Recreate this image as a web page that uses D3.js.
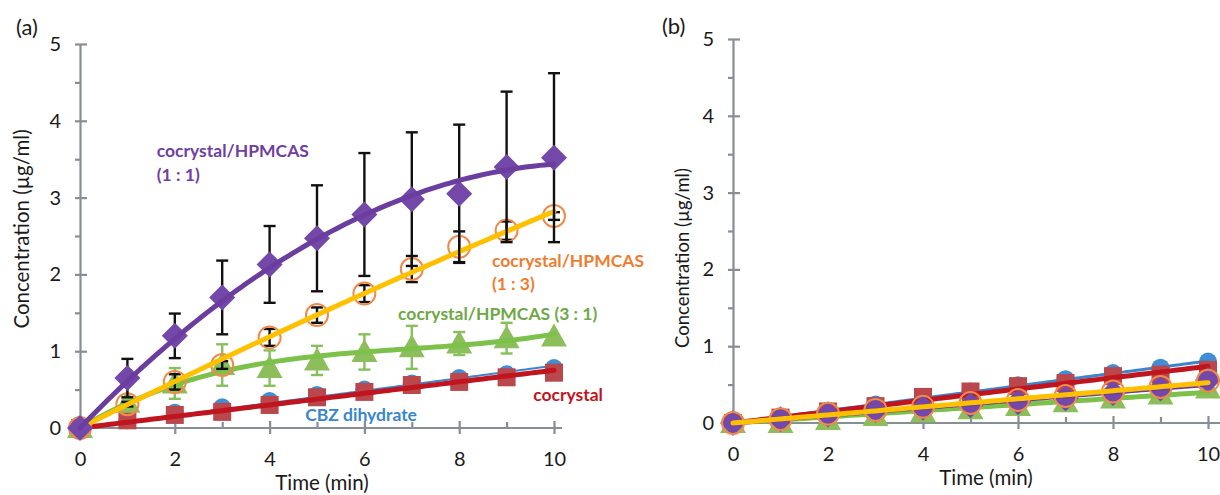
<!DOCTYPE html>
<html>
<head>
<meta charset="utf-8">
<script src="https://cdn.jsdelivr.net/npm/d3@7"></script>
<style>
  body { margin: 0; background: #fff; }
  svg text { font-family: Lato, "Open Sans", sans-serif; }
</style>
</head>
<body>
<div id="chart"></div>
<script>
// time points (min)
var times = [0, 1, 2, 3, 4, 5, 6, 7, 8, 9, 10];
var yTicks = [0, 1, 2, 3, 4, 5];
var yMinor = [0.5, 1.5, 2.5, 3.5, 4.5];
var xTicks = [0, 2, 4, 6, 8, 10];
var xMinor = [1, 3, 5, 7, 9];

// panel (a) values, µg/ml
var cbzA      = [0, 0.10, 0.20, 0.27, 0.35, 0.43, 0.50, 0.58, 0.65, 0.70, 0.78];
var coA       = [0, 0.10, 0.17, 0.21, 0.30, 0.40, 0.47, 0.56, 0.60, 0.66, 0.72];
var hp31A     = [0, 0.33, 0.58, 0.82, 0.78, 0.88, 0.99, 1.05, 1.10, 1.17, 1.19];
var hp31ErrA  = [0, 0.05, 0.20, 0.27, 0.23, 0.19, 0.23, 0.28, 0.15, 0.20, 0.00];
var hp13A     = [0, 0.31, 0.60, 0.82, 1.18, 1.47, 1.75, 2.07, 2.36, 2.57, 2.76];
var hp13ErrA  = [0, 0.03, 0.10, 0.05, 0.11, 0.10, 0.11, 0.17, 0.20, 0.12, 0.05];
var hp11A     = [0, 0.65, 1.20, 1.70, 2.13, 2.47, 2.78, 2.98, 3.05, 3.40, 3.52];
var hp11ErrA  = [0, 0.25, 0.29, 0.48, 0.50, 0.69, 0.80, 0.87, 0.90, 0.98, 1.10];

// panel (b) values, µg/ml
var cbzB  = [0, 0.08, 0.16, 0.24, 0.33, 0.41, 0.49, 0.57, 0.65, 0.72, 0.80];
var coB   = [0, 0.07, 0.15, 0.22, 0.34, 0.41, 0.48, 0.52, 0.61, 0.63, 0.69];
var hp31B = [0, 0.00, 0.04, 0.09, 0.14, 0.18, 0.22, 0.27, 0.32, 0.37, 0.45];
var hp13B = [0, 0.05, 0.12, 0.17, 0.21, 0.26, 0.30, 0.35, 0.41, 0.47, 0.55];
var hp11B = [0, 0.05, 0.11, 0.17, 0.20, 0.23, 0.27, 0.32, 0.39, 0.45, 0.56];

var labelsA = [
  {text: "cocrystal/HPMCAS", t: 1.62, c: 3.53, color: "#7040a0"},
  {text: "(1 : 1)",          t: 1.62, c: 3.22, color: "#7040a0"},
  {text: "cocrystal/HPMCAS", t: 8.69, c: 2.10, color: "#ee7d31"},
  {text: "(1 : 3)",          t: 8.69, c: 1.80, color: "#ee7d31"},
  {text: "cocrystal/HPMCAS (3 : 1)", t: 6.71, c: 1.41, color: "#6fa846"},
  {text: "CBZ dihydrate",    t: 4.75, c: 0.09, color: "#3a86cc"},
  {text: "cocrystal",        t: 9.56, c: 0.35, color: "#c0141e"}
];

var W = 1220, H = 495;
var svg = d3.select("#chart").append("svg")
  .attr("width", W).attr("height", H);

// least squares polynomial through the origin: y = a1 t + a2 t^2 + ...
function fitOrigin(xs, ys, deg) {
  var n = deg, M = [], b = [];
  for (var i = 0; i < n; i++) {
    M.push([]);
    b.push(d3.sum(xs, function(x, k){ return Math.pow(x, i + 1) * ys[k]; }));
    for (var j = 0; j < n; j++) {
      M[i].push(d3.sum(xs, function(x){ return Math.pow(x, i + j + 2); }));
    }
  }
  for (var p = 0; p < n; p++) {
    for (var r = p + 1; r < n; r++) {
      var f = M[r][p] / M[p][p];
      for (var c = p; c < n; c++) M[r][c] -= f * M[p][c];
      b[r] -= f * b[p];
    }
  }
  var a = new Array(n);
  for (var q = n - 1; q >= 0; q--) {
    var s = b[q];
    for (var c2 = q + 1; c2 < n; c2++) s -= M[q][c2] * a[c2];
    a[q] = s / M[q][q];
  }
  return function(t) {
    var y = 0;
    for (var k = 0; k < n; k++) y += a[k] * Math.pow(t, k + 1);
    return y;
  };
}

function drawPanel(opt) {
  var x = d3.scaleLinear().domain([0, 10]).range(opt.xr);
  var y = d3.scaleLinear().domain([0, 5]).range(opt.yr);
  var g = svg.append("g");
  var axisColor = "#878e94";

  // y axis
  var ya = g.append("g").attr("transform", "translate(" + opt.xr[0] + ",0)")
    .call(d3.axisLeft(y).tickValues(yTicks).tickFormat(d3.format("d"))
      .tickSize(5).tickSizeOuter(0).tickPadding(14));
  ya.selectAll(".tick line").attr("x1", 7).attr("x2", -5);
  var yam = g.append("g").attr("transform", "translate(" + opt.xr[0] + ",0)")
    .call(d3.axisLeft(y).tickValues(yMinor).tickSize(5).tickFormat(""));
  yam.select(".domain").remove();

  // x axis
  var xa = g.append("g").attr("transform", "translate(0," + opt.yr[0] + ")")
    .call(d3.axisBottom(x).tickValues(xTicks).tickFormat(d3.format("d"))
      .tickSize(6).tickSizeOuter(0).tickPadding(14));
  xa.selectAll(".tick line").attr("y1", -7).attr("y2", 6);
  xa.select(".domain").remove();
  xa.append("line").attr("x1", x(0)).attr("x2", x(10) + opt.xExt)
    .attr("y1", 0).attr("y2", 0);
  var xam = g.append("g").attr("transform", "translate(0," + opt.yr[0] + ")")
    .call(d3.axisBottom(x).tickValues(xMinor).tickSize(-6).tickFormat(""));
  xam.select(".domain").remove();

  g.selectAll(".domain, .tick line")
    .attr("stroke", axisColor).attr("stroke-width", 2.2);
  xa.selectAll("line").attr("stroke", axisColor).attr("stroke-width", 2.2);
  g.selectAll(".tick text").attr("font-size", 20).attr("fill", "#1a1a1a")
    .style("font-family", "Lato, sans-serif");
  xa.selectAll(".tick text").attr("dy", "0.9em");

  // titles
  g.append("text")
    .attr("transform", "translate(" + opt.yTitleX + "," + opt.yTitleY + ") rotate(-90)")
    .attr("text-anchor", "middle").attr("font-size", opt.yTitleSize).attr("fill", "#1a1a1a")
    .text("Concentration (µg/ml)");
  g.append("text").attr("x", opt.xTitleX).attr("y", opt.xTitleY)
    .attr("text-anchor", "middle").attr("font-size", 20.5).attr("fill", "#1a1a1a")
    .text("Time (min)");
  g.append("text").attr("x", opt.tagX).attr("y", opt.tagY)
    .attr("font-size", 22).attr("fill", "#1a1a1a").text(opt.tag);

  var fine = d3.range(0, 10.001, 0.1);
  var line = d3.line().x(function(d){ return x(d[0]); }).y(function(d){ return y(d[1]); });

  opt.series.forEach(function(s) {
    var sg = g.append("g");
    var pts = times.map(function(t, i){ return [t, s.values[i]]; });

    if (s.err) {
      var eg = sg.append("g").attr("stroke", s.errColor).attr("stroke-width", 2.4);
      pts.forEach(function(p, i) {
        var e = s.err[i];
        if (!e) return;
        var cx = x(p[0]), y0 = y(p[1] - e), y1 = y(p[1] + e);
        eg.append("line").attr("x1", cx).attr("x2", cx).attr("y1", y0).attr("y2", y1);
        eg.append("line").attr("x1", cx - 6).attr("x2", cx + 6).attr("y1", y0).attr("y2", y0);
        eg.append("line").attr("x1", cx - 6).attr("x2", cx + 6).attr("y1", y1).attr("y2", y1);
      });
    }

    var sym = sg.append("g").selectAll("path").data(pts).join("path")
      .attr("transform", function(d){ return "translate(" + x(d[0]) + "," + y(d[1]) + ")"; });
    if (s.shape === "diamond") {
      sym.attr("d", "M0,-13L13,0L0,13L-13,0Z").attr("fill", s.mark);
    } else if (s.shape === "square") {
      sym.attr("d", "M-9,-9H9V9H-9Z").attr("fill", s.mark);
    } else if (s.shape === "triangle") {
      sym.attr("d", "M0,-13L13,10H-13Z").attr("fill", s.mark);
    } else if (s.shape === "ring") {
      sym.attr("d", d3.symbol(d3.symbolCircle, Math.PI * 11 * 11)())
        .attr("fill", "none").attr("stroke", s.mark).attr("stroke-width", 2);
    } else {
      sym.attr("d", d3.symbol(d3.symbolCircle, Math.PI * 9 * 9)()).attr("fill", s.mark);
    }

    var f = fitOrigin(times, s.values, s.deg);
    sg.append("path")
      .datum(fine.map(function(t){ return [t, f(t)]; }))
      .attr("d", line).attr("fill", "none")
      .attr("stroke", s.line).attr("stroke-width", s.lw)
      .attr("stroke-linecap", "round").attr("stroke-linejoin", "round");
  });

  (opt.labels || []).forEach(function(l) {
    g.append("text").attr("x", x(l.t)).attr("y", y(l.c))
      .attr("font-size", 17.5).attr("font-weight", "bold").attr("fill", l.color)
      .text(l.text);
  });
}

drawPanel({
  xr: [80, 554], yr: [428, 44], xExt: 8,
  yTitleX: 29, yTitleY: 229, yTitleSize: 20.5,
  xTitleX: 322, xTitleY: 490,
  tag: "(a)", tagX: 16, tagY: 35,
  labels: labelsA,
  series: [
    {values: cbzA, shape: "circle", mark: "#3f8ed6", line: "#3a86cc", lw: 2, deg: 1},
    {values: coA, shape: "square", mark: "#b9474b", line: "#c0141e", lw: 5, deg: 1},
    {values: hp31A, err: hp31ErrA, errColor: "#86c05a", shape: "triangle", mark: "#8dbe5c", line: "#7cc24a", lw: 5, deg: 3},
    {values: hp13A, err: hp13ErrA, errColor: "#111", shape: "ring", mark: "#f08a4b", line: "#ffc000", lw: 5, deg: 2},
    {values: hp11A, err: hp11ErrA, errColor: "#111", shape: "diamond", mark: "#7448a8", line: "#6a3d9e", lw: 5, deg: 2}
  ]
});

drawPanel({
  xr: [733, 1208], yr: [423, 39], xExt: 12,
  yTitleX: 689, yTitleY: 258, yTitleSize: 18.5,
  xTitleX: 986, xTitleY: 485,
  tag: "(b)", tagX: 662, tagY: 34,
  series: [
    {values: cbzB, shape: "circle", mark: "#3f8ed6", line: "#3a86cc", lw: 3, deg: 1},
    {values: coB, shape: "square", mark: "#b9474b", line: "#c0141e", lw: 5, deg: 1},
    {values: hp31B, shape: "triangle", mark: "#8dbe5c", line: "#7cc24a", lw: 5, deg: 1},
    {values: hp11B, shape: "diamond", mark: "#7448a8", line: "#6a3d9e", lw: 5, deg: 1},
    {values: hp13B, shape: "ring", mark: "#f08a4b", line: "#ffc000", lw: 5, deg: 1}
  ]
});
</script>
</body>
</html>
